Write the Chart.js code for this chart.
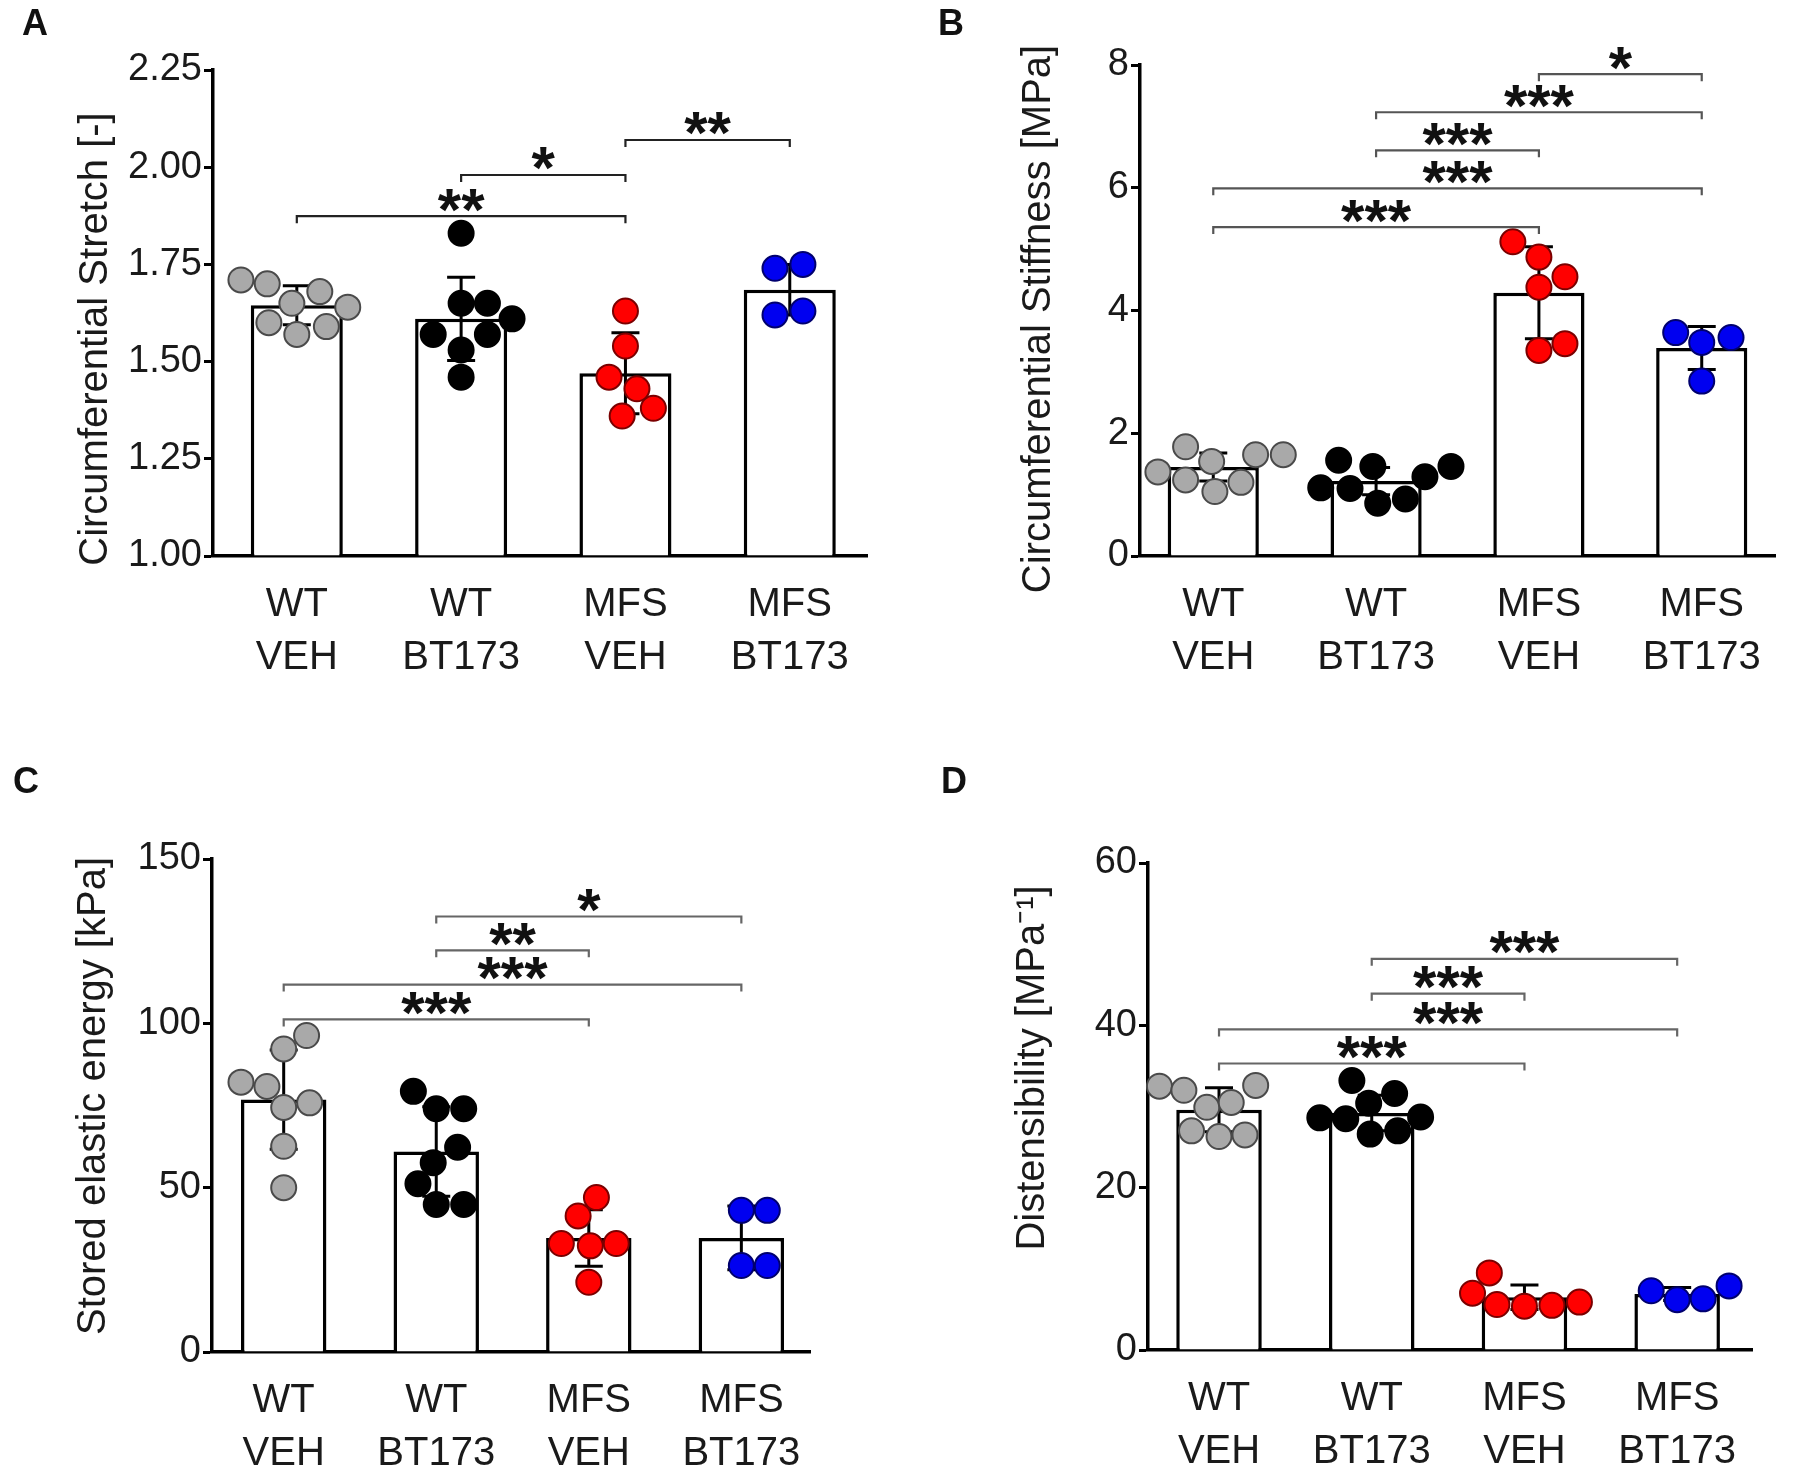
<!DOCTYPE html>
<html><head><meta charset="utf-8">
<script src="https://cdn.jsdelivr.net/npm/chart.js@4.4.1/dist/chart.umd.min.js"></script>
<style>
html,body{margin:0;padding:0;background:#fff;}
#wrap{position:relative;width:1800px;height:1476px;overflow:hidden;background:#fff;}
canvas{position:absolute;}
.lbl{position:absolute;font:bold 36px "Liberation Sans",Arial,sans-serif;color:#111;line-height:40px;}
</style></head><body>
<div id="wrap">
<canvas id="cA" width="900" height="738" style="left:0;top:0"></canvas>
<canvas id="cB" width="900" height="738" style="left:900px;top:0"></canvas>
<canvas id="cC" width="900" height="738" style="left:0;top:738px"></canvas>
<canvas id="cD" width="900" height="738" style="left:900px;top:738px"></canvas>
<div class="lbl" style="left:22px;top:3px">A</div>
<div class="lbl" style="left:938px;top:3px">B</div>
<div class="lbl" style="left:13px;top:761px">C</div>
<div class="lbl" style="left:941px;top:761px">D</div>
</div>
<script>
// ---------- categories ----------
const genotype  = ["WT", "WT", "MFS", "MFS"];
const treatment = ["VEH", "BT173", "VEH", "BT173"];

// ---------- Panel A: circumferential stretch ----------
const stretchTicks = [1.00, 1.25, 1.50, 1.75, 2.00, 2.25];
const stretchMean  = [1.645, 1.61, 1.47, 1.685];
const stretchSD    = [0.05, 0.107, 0.104, 0.065];
const stretchPts = [
  [1.71, 1.70, 1.68, 1.65, 1.64, 1.60, 1.59, 1.57],
  [1.83, 1.65, 1.65, 1.61, 1.57, 1.57, 1.53, 1.46],
  [1.63, 1.54, 1.46, 1.43, 1.36, 1.38],
  [1.74, 1.75, 1.62, 1.63]
];
const stretchJit = [
  [-0.34, -0.18, 0.14, -0.03, 0.31, -0.17, 0.18, 0.0],
  [0.0, 0.0, 0.16, 0.31, -0.17, 0.16, 0.0, 0.0],
  [0.0, 0.0, -0.1, 0.07, -0.02, 0.17],
  [-0.09, 0.08, -0.09, 0.08]
];
const stretchSig = [
  {from: 0, to: 2, y: 1.874, label: "**"},
  {from: 1, to: 2, y: 1.98, label: "*"},
  {from: 2, to: 3, y: 2.07, label: "**"}
];

// ---------- Panel B: circumferential stiffness ----------
const stiffTicks = [0, 2, 4, 6, 8];
const stiffMean  = [1.45, 1.22, 4.29, 3.39];
const stiffSD    = [0.23, 0.22, 0.75, 0.35];
const stiffPts = [
  [1.78, 1.37, 1.54, 1.65, 1.65, 1.24, 1.05, 1.20],
  [1.56, 1.11, 1.10, 1.46, 0.86, 0.93, 1.29, 1.46],
  [5.12, 4.87, 4.55, 4.38, 3.35, 3.46],
  [3.64, 3.48, 3.56, 2.85]
];
const stiffJit = [
  [-0.17, -0.34, -0.01, 0.26, 0.43, -0.17, 0.01, 0.17],
  [-0.23, -0.34, -0.16, -0.02, 0.01, 0.18, 0.30, 0.46],
  [-0.16, 0.0, 0.16, 0.0, 0.0, 0.16],
  [-0.16, 0.0, 0.18, 0.0]
];
const stiffSig = [
  {from: 2, to: 3, y: 7.85, label: "*"},
  {from: 1, to: 3, y: 7.23, label: "***"},
  {from: 1, to: 2, y: 6.61, label: "***"},
  {from: 0, to: 3, y: 5.99, label: "***"},
  {from: 0, to: 2, y: 5.36, label: "***"}
];

// ---------- Panel C: stored elastic energy ----------
const energyTicks = [0, 50, 100, 150];
const energyMean  = [76.8, 61.0, 34.7, 34.7];
const energySD    = [15.1, 13.6, 8.6, 9.7];
const energyPts = [
  [96.3, 92.2, 82.1, 80.8, 74.4, 75.8, 62.6, 50.0],
  [79.3, 74.0, 74.0, 62.3, 57.6, 51.2, 44.9, 44.9],
  [47.0, 41.4, 33.0, 32.3, 33.0, 21.2],
  [43.1, 43.1, 26.3, 26.3]
];
const energyJit = [
  [0.15, 0.0, -0.28, -0.11, 0.0, 0.17, 0.0, 0.0],
  [-0.15, 0.0, 0.18, 0.14, -0.02, -0.12, 0.0, 0.18],
  [0.05, -0.07, -0.18, 0.01, 0.18, 0.0],
  [0.0, 0.17, 0.0, 0.17]
];
const energySig = [
  {from: 1, to: 3, y: 132.5, label: "*"},
  {from: 1, to: 2, y: 122.2, label: "**"},
  {from: 0, to: 3, y: 111.8, label: "***"},
  {from: 0, to: 2, y: 101.2, label: "***"}
];

// ---------- Panel D: distensibility ----------
const distTicks = [0, 20, 40, 60];
const distMean  = [29.6, 29.2, 6.5, 6.9];
const distSD    = [2.7, 2.2, 1.5, 0.8];
const distPts = [
  [32.5, 32.0, 32.6, 29.9, 30.5, 27.0, 26.3, 26.5],
  [33.2, 31.6, 30.4, 28.6, 28.5, 28.7, 26.6, 27.0],
  [9.5, 7.0, 5.6, 5.4, 5.5, 5.9],
  [7.3, 6.2, 6.3, 7.9]
];
const distJit = [
  [-0.39, -0.23, 0.24, -0.08, 0.08, -0.18, 0.0, 0.17],
  [-0.13, 0.15, -0.02, -0.34, -0.17, 0.32, -0.01, 0.17],
  [-0.23, -0.34, -0.18, 0.0, 0.18, 0.36],
  [-0.17, 0.0, 0.17, 0.34]
];
const distSig = [
  {from: 1, to: 3, y: 48.2, label: "***"},
  {from: 1, to: 2, y: 43.9, label: "***"},
  {from: 0, to: 3, y: 39.5, label: "***"},
  {from: 0, to: 2, y: 35.3, label: "***"}
];

// ---------- styles ----------
const groupFill   = ["#a9a9a9", "#000000", "#ff0000", "#0000f0"];
const groupStroke = ["#4a4a4a", "#000000", "#7a0000", "#00006e"];
const FONT = '"Liberation Sans", Arial, sans-serif';

const decoPlugin = {
  id: "deco",
  afterDatasetDraw(chart, args, opts) {
    if (args.meta.type !== "bar") return;
    const xs = chart.scales.x, ys = chart.scales.y, ctx = chart.ctx;
    ctx.save();
    ctx.strokeStyle = "#000";
    ctx.lineWidth = 3;
    ctx.lineCap = "butt";
    opts.mean.forEach((m, i) => {
      const x = xs.getPixelForValue(i);
      const t = ys.getPixelForValue(m + opts.sd[i]);
      const b = ys.getPixelForValue(m - opts.sd[i]);
      const cw = 14;
      ctx.beginPath();
      ctx.moveTo(x, b); ctx.lineTo(x, t);
      ctx.moveTo(x - cw, t); ctx.lineTo(x + cw, t);
      ctx.moveTo(x - cw, b); ctx.lineTo(x + cw, b);
      ctx.stroke();
    });
    ctx.restore();
  },
  afterDatasetsDraw(chart, args, opts) {
    const xs = chart.scales.x, ys = chart.scales.y, ctx = chart.ctx;
    ctx.save();
    opts.sig.forEach((s) => {
      const x1 = xs.getPixelForValue(s.from), x2 = xs.getPixelForValue(s.to);
      const y = ys.getPixelForValue(s.y);
      ctx.strokeStyle = opts.lineColor;
      ctx.lineWidth = 2.2;
      ctx.beginPath();
      ctx.moveTo(x1, y + 7); ctx.lineTo(x1, y); ctx.lineTo(x2, y); ctx.lineTo(x2, y + 7);
      ctx.stroke();
      ctx.font = "bold 60px " + FONT;
      ctx.fillStyle = "#111";
      ctx.textAlign = "center";
      ctx.textBaseline = "alphabetic";
      const m = ctx.measureText("*");
      const cy = y - 16;
      const base = cy + (m.actualBoundingBoxAscent - m.actualBoundingBoxDescent) / 2;
      ctx.fillText(s.label, (x1 + x2) / 2, base);
    });
    ctx.restore();
  },
  afterDraw(chart, args, opts) {
    const ctx = chart.ctx;
    ctx.save();
    ctx.translate(opts.titleX, opts.titleY);
    ctx.rotate(-Math.PI / 2);
    ctx.font = "40px " + FONT;
    ctx.fillStyle = "#1a1a1a";
    ctx.textAlign = "center";
    ctx.textBaseline = "middle";
    ctx.fillText(opts.title, 0, 0);
    ctx.restore();
  }
};

function makePanel(id, cfg) {
  const pts = [], bg = [], bd = [];
  cfg.pts.forEach((arr, i) => {
    arr.forEach((v, k) => {
      pts.push({x: i + cfg.jit[i][k], y: v});
      bg.push(groupFill[i]);
      bd.push(groupStroke[i]);
    });
  });
  const bars = cfg.mean.map((m, i) => ({x: i, y: m}));
  const tickVals = cfg.ticks;
  new Chart(document.getElementById(id), {
    type: "bar",
    data: {
      datasets: [
        {type: "scatter", data: pts, backgroundColor: bg, borderColor: bd,
         pointRadius: 12.5, pointBorderWidth: 2, pointHoverRadius: 12.5, clip: false},
        {type: "bar", data: bars, backgroundColor: "#ffffff", borderColor: "#000000",
         borderWidth: 3.5, borderSkipped: "start", barPercentage: 0.56, categoryPercentage: 1.0,
         base: tickVals[0]}
      ]
    },
    options: {
      responsive: false,
      animation: false,
      devicePixelRatio: 1,
      layout: {padding: {left: 0, top: cfg.area.top, right: cfg.area.right, bottom: 0}},
      plugins: {
        legend: {display: false},
        tooltip: {enabled: false},
        deco: {mean: cfg.mean, sd: cfg.sd, sig: cfg.sig, lineColor: cfg.lineColor,
               title: cfg.title, titleX: cfg.titleX, titleY: cfg.titleY}
      },
      scales: {
        x: {
          type: "linear",
          offset: false,
          min: cfg.xmin, max: cfg.xmax,
          grid: {display: false},
          border: {display: true, color: "#000", width: 3.5},
          afterBuildTicks: (s) => { s.ticks = genotype.map((g, i) => ({value: i})); },
          afterFit: (s) => { s.height = cfg.area.xh; },
          ticks: {
            autoSkip: false, maxRotation: 0, padding: cfg.xpad,
            color: "#1a1a1a",
            font: {family: FONT, size: 40, lineHeight: 1.33},
            callback: (v) => [genotype[v], treatment[v]]
          }
        },
        y: {
          type: "linear",
          min: tickVals[0], max: tickVals[tickVals.length - 1],
          grid: {display: true, drawOnChartArea: false, drawTicks: true, tickLength: 9,
                 tickWidth: 3, tickColor: "#000"},
          border: {display: true, color: "#000", width: 3.5},
          afterBuildTicks: (s) => { s.ticks = tickVals.map((v) => ({value: v})); },
          afterFit: (s) => { s.width = cfg.area.left; },
          ticks: {
            padding: 2, color: "#1a1a1a",
            font: {family: FONT, size: 38},
            callback: (v) => cfg.fmt(v)
          }
        }
      }
    },
    plugins: [decoPlugin]
  });
}

makePanel("cA", {
  pts: stretchPts, jit: stretchJit, mean: stretchMean, sd: stretchSD, sig: stretchSig,
  ticks: stretchTicks, fmt: (v) => v.toFixed(2),
  area: {left: 213, right: 33, top: 70, xh: 182}, xmin: -0.51, xmax: 3.47, xpad: 14,
  lineColor: "#222", title: "Circumferential Stretch [-]", titleX: 96, titleY: 339
});
makePanel("cB", {
  pts: stiffPts, jit: stiffJit, mean: stiffMean, sd: stiffSD, sig: stiffSig,
  ticks: stiffTicks, fmt: (v) => String(v),
  area: {left: 240, right: 25, top: 65, xh: 182}, xmin: -0.45, xmax: 3.45, xpad: 14,
  lineColor: "#555", title: "Circumferential Stiffness [MPa]", titleX: 139, titleY: 319
});
makePanel("cC", {
  pts: energyPts, jit: energyJit, mean: energyMean, sd: energySD, sig: energySig,
  ticks: energyTicks, fmt: (v) => String(v),
  area: {left: 212, right: 90, top: 121, xh: 124}, xmin: -0.47, xmax: 3.45, xpad: 14,
  lineColor: "#666", title: "Stored elastic energy [kPa]", titleX: 94, titleY: 358
});
makePanel("cD", {
  pts: distPts, jit: distJit, mean: distMean, sd: distSD, sig: distSig,
  ticks: distTicks, fmt: (v) => String(v),
  area: {left: 248, right: 48, top: 125, xh: 126}, xmin: -0.465, xmax: 3.49, xpad: 14,
  lineColor: "#666", title: "Distensibility [MPa\u207B\u00B9]", titleX: 133, titleY: 330
});
</script>
</body></html>
